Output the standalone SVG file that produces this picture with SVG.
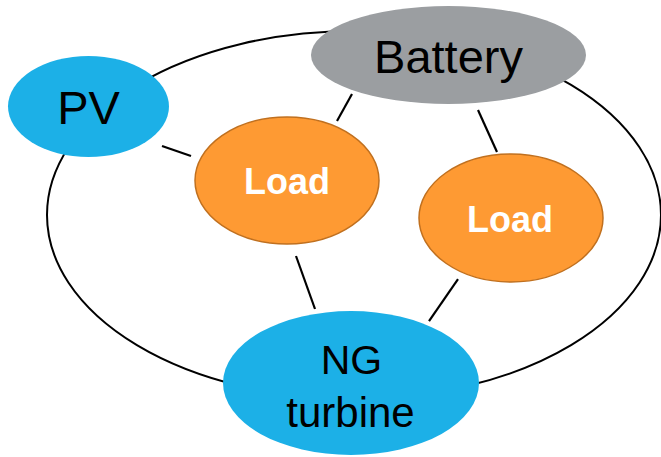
<svg xmlns="http://www.w3.org/2000/svg" width="661" height="457" viewBox="0 0 661 457">
<style>
.ring{fill:none;stroke:#000;stroke-width:2}
.link{stroke:#000;stroke-width:2.2;fill:none}
.blue{fill:#1CB0E7}
.gray{fill:#9B9EA1}
.orange{fill:#FE9A33;stroke:#C0701F;stroke-width:1.5}
.dark{font-family:"Liberation Sans",Arial,sans-serif;fill:#000;text-anchor:middle}
.load{font-family:"Liberation Sans",Arial,sans-serif;font-weight:bold;fill:#fff;text-anchor:middle;font-size:36px}
</style>
<rect width="661" height="457" fill="#fff"/>
<g id="connectors">
<ellipse class="ring" cx="354" cy="215" rx="307" ry="184"/>
<line class="link" x1="162" y1="146" x2="191" y2="156"/>
<line class="link" x1="352" y1="94" x2="337" y2="121"/>
<line class="link" x1="478" y1="110" x2="497" y2="152"/>
<line class="link" x1="296" y1="256" x2="315" y2="309"/>
<line class="link" x1="458" y1="279" x2="429" y2="321"/>
</g>
<g id="pv">
<ellipse class="blue" cx="88.5" cy="106.5" rx="80.5" ry="50.5"/>
<text class="dark" x="88.5" y="124" font-size="47">PV</text>
</g>
<g id="battery">
<ellipse class="gray" cx="448.5" cy="55" rx="137.5" ry="49"/>
<text class="dark" x="448.5" y="73" font-size="47">Battery</text>
</g>
<g id="load1">
<ellipse class="orange" cx="287" cy="180.5" rx="92" ry="63.5"/>
<text class="load" x="287" y="194">Load</text>
</g>
<g id="load2">
<ellipse class="orange" cx="511" cy="218" rx="92" ry="64"/>
<text class="load" x="510" y="232">Load</text>
</g>
<g id="ng">
<ellipse class="blue" cx="351" cy="383" rx="128" ry="72"/>
<text class="dark" x="351.5" y="374" font-size="41">NG</text>
<text class="dark" x="350.5" y="427" font-size="42">turbine</text>
</g>
</svg>
